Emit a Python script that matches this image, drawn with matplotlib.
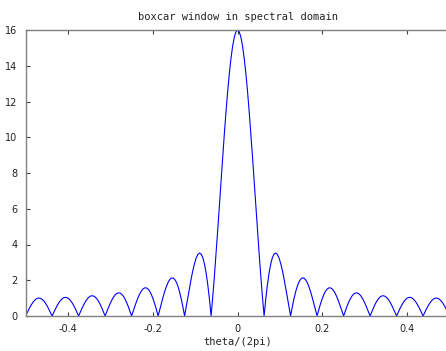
import numpy as np
import matplotlib
matplotlib.use("Agg")
import matplotlib.pyplot as plt

# boxcar window (time domain), length 16
window = [1.0] * 16
nfft = 256
title = "boxcar window in spectral domain"
xlabel = "theta/(2pi)"
xticks = [-0.4, -0.2, 0.0, 0.2, 0.4]
xticklabels = ["-0.4", "-0.2", "0", "0.2", "0.4"]
yticks = [0, 2, 4, 6, 8, 10, 12, 14, 16]

spec = np.abs(np.fft.fftshift(np.fft.fft(np.array(window), nfft)))
freq = np.fft.fftshift(np.fft.fftfreq(nfft))
freq = np.append(freq, 0.5)
spec = np.append(spec, spec[0])

fig = plt.figure(figsize=(4.46, 3.51), dpi=100)
ax = fig.add_axes([25.6 / 446, 35 / 351, 424 / 446, 286 / 351])
ax.plot(freq, spec, color="#0000ff", lw=0.8)
ax.set_xlim(-0.5, 0.5)
ax.set_ylim(0, 16)
ax.set_xticks(xticks)
ax.set_xticklabels(xticklabels)
ax.set_yticks(yticks)
for s in ax.spines.values():
    s.set_color("#808080")
    s.set_linewidth(1.0)
ax.tick_params(direction="in", length=3, width=0.8, color="#404040",
               labelsize=7, top=True, right=True, labelcolor="#222222", pad=6)
ax.set_title(title, fontsize=7.5, family="DejaVu Sans Mono", pad=7, color="#222222")
ax.set_xlabel(xlabel, fontsize=7.5, family="DejaVu Sans Mono", labelpad=2, color="#222222")
fig.savefig("out.png", dpi=100)
